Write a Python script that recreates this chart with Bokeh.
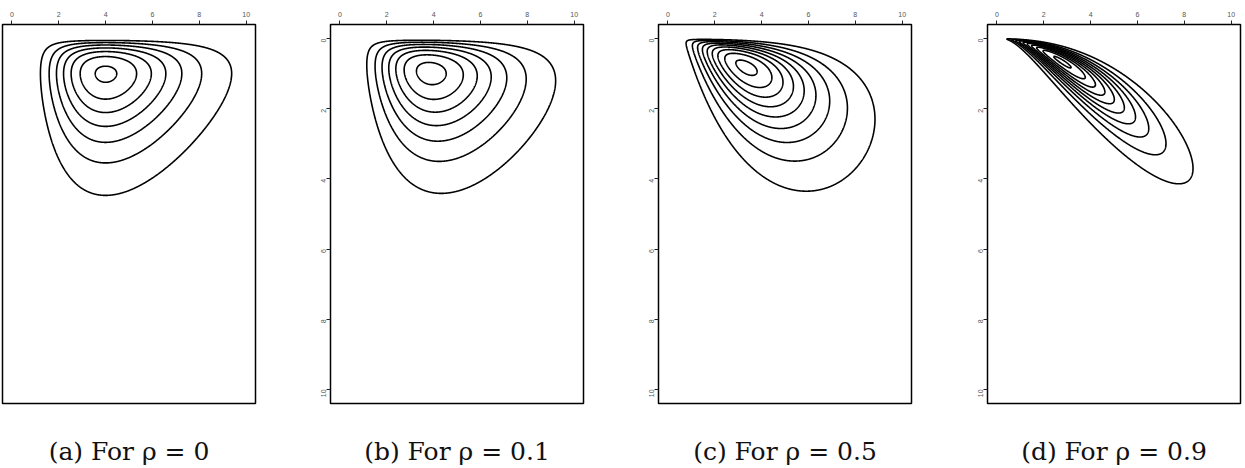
import math
import numpy as np
from bokeh.plotting import figure
from bokeh.layouts import row
from bokeh.models import Range1d, FixedTicker, LinearAxis
from bokeh.embed import file_html
from bokeh.resources import INLINE

# ---- data ----
rhos = [0.0, 0.1, 0.5, 0.9]
captions = ["(a) For \u03c1 = 0", "(b) For \u03c1 = 0.1", "(c) For \u03c1 = 0.5", "(d) For \u03c1 = 0.9"]
shape_x = 5          # Gamma(5, 1) marginal of X
shape_y = 2          # Gamma(2, 1) marginal of Y
tick_values = [0, 2, 4, 6, 8, 10]
tick_labels = ["0", "2", "4", "6", "8", "10"]
axis_limits = [0, 10]

# ---- density evaluation (Gaussian copula with gamma marginals) ----
def gamma_int(x, k):
    term = np.exp(-x)
    sf = np.zeros_like(x)
    cdf = np.zeros_like(x)
    for j in range(0, 140):
        if j < k:
            sf += term
        else:
            cdf += term
        term = term * x / (j + 1)
    pdf = x ** (k - 1) * np.exp(-x) / math.factorial(k - 1)
    return pdf, cdf, sf

A_ = [-3.969683028665376e+01, 2.209460984245205e+02, -2.759285104469687e+02,
      1.383577518672690e+02, -3.066479806614716e+01, 2.506628277459239e+00]
B_ = [-5.447609879822406e+01, 1.615858368580409e+02, -1.556989798598866e+02,
      6.680131188771972e+01, -1.328068155288572e+01]
C_ = [-7.784894002430293e-03, -3.223964580411365e-01, -2.400758277161838e+00,
      -2.549732539343734e+00, 4.374664141464968e+00, 2.938163982698783e+00]
D_ = [7.784695709041462e-03, 3.224671290700398e-01, 2.445134137142996e+00,
      3.754408661907416e+00]

def _ppf_low(p):
    out = np.empty_like(p)
    t = p < 0.02425
    q = np.sqrt(-2 * np.log(p[t]))
    out[t] = (((((C_[0]*q + C_[1])*q + C_[2])*q + C_[3])*q + C_[4])*q + C_[5]) / \
             ((((D_[0]*q + D_[1])*q + D_[2])*q + D_[3])*q + 1)
    m = ~t
    q = p[m] - 0.5
    r = q * q
    out[m] = (((((A_[0]*r + A_[1])*r + A_[2])*r + A_[3])*r + A_[4])*r + A_[5]) * q / \
             (((((B_[0]*r + B_[1])*r + B_[2])*r + B_[3])*r + B_[4])*r + 1)
    return out

def norm_ppf(cdf, sf):
    z = np.empty_like(cdf)
    lo = cdf <= sf
    z[lo] = _ppf_low(cdf[lo])
    z[~lo] = -_ppf_low(sf[~lo])
    return z

def r_pretty_unit(lo, up, n=10, h=1.5):
    h5 = 0.5 + 1.5 * h
    cell = (up - lo) / n
    base = 10 ** math.floor(math.log10(cell))
    unit = base
    if 2 * base - cell < h * (cell - unit):
        unit = 2 * base
        if 5 * base - cell < h5 * (cell - unit):
            unit = 5 * base
            if 10 * base - cell < h * (cell - unit):
                unit = 10 * base
    return unit

xs = np.linspace(0.01, 10, 700)
ys = np.linspace(0.002, 10, 1000)
fx, Fx, Sx = gamma_int(xs, shape_x)
gy, Gy, Sy = gamma_int(ys, shape_y)
a = norm_ppf(Fx, Sx)
b = norm_ppf(Gy, Sy)
AA, BB = np.meshgrid(a, b)
FX, GY = np.meshgrid(fx, gy)

# ---- layout numbers ----
widths = [300, 328, 329, 286]
left_b = [2, 30, 30, 30]
right_b = [45, 45, 46, 3]

panels = []
for i, rho in enumerate(rhos):
    Z = FX * GY * np.exp((2 * rho * AA * BB - rho ** 2 * (AA ** 2 + BB ** 2)) /
                         (2 * (1 - rho ** 2))) / np.sqrt(1 - rho ** 2)
    zmax = float(np.nanmax(Z))
    unit = r_pretty_unit(0.0, zmax)
    nlev = int(math.floor(zmax / unit + 1e-9))
    levels = [unit * k for k in range(1, nlev + 1)]

    pad = 0.04 * (axis_limits[1] - axis_limits[0])
    fig = figure(width=widths[i], height=468,
                 x_range=Range1d(axis_limits[0] - pad, axis_limits[1] + pad),
                 y_range=Range1d(axis_limits[1] + pad, axis_limits[0] - pad),
                 x_axis_location="above",
                 y_axis_location=(None if i == 0 else "left"),
                 toolbar_location=None, output_backend="svg",
                 title=None,
                 min_border_left=left_b[i], min_border_right=right_b[i],
                 min_border_top=24, min_border_bottom=64)
    fig.grid.visible = False
    fig.background_fill_color = "white"
    fig.border_fill_color = "white"
    fig.outline_line_color = "black"
    fig.outline_line_width = 1.5
    fig.outline_line_alpha = 1.0

    for ax in fig.axis:
        ax.ticker = FixedTicker(ticks=tick_values)
        ax.major_label_overrides = {v: s for v, s in zip(tick_values, tick_labels)}
        ax.axis_line_color = None
        ax.major_tick_in = 0
        ax.major_tick_out = 4
        ax.major_tick_line_color = "#222222"
        ax.major_tick_line_width = 1
        ax.minor_tick_line_color = None
        ax.major_label_text_font = "Liberation Sans"
        ax.major_label_text_font_size = "7px"
        ax.major_label_text_color = "#555555"
        ax.major_label_standoff = 4
    if i > 0:
        fig.yaxis.major_label_orientation = math.pi / 2
        fig.yaxis.major_label_standoff = 3

    cap_axis = LinearAxis(ticker=FixedTicker(ticks=[]), axis_label=captions[i],
                          axis_line_color=None, major_tick_line_color=None,
                          minor_tick_line_color=None, major_tick_out=0,
                          major_label_standoff=0,
                          axis_label_standoff=33,
                          axis_label_text_font="DejaVu Serif",
                          axis_label_text_font_size="25px",
                          axis_label_text_font_style="normal",
                          axis_label_text_color="#111111")
    fig.add_layout(cap_axis, "below")

    fig.contour(xs, ys, Z, levels, line_color="black", line_width=1.6)
    panels.append(fig)

layout = row(*panels, spacing=0)
open("out.html", "w").write(file_html(layout, INLINE))
